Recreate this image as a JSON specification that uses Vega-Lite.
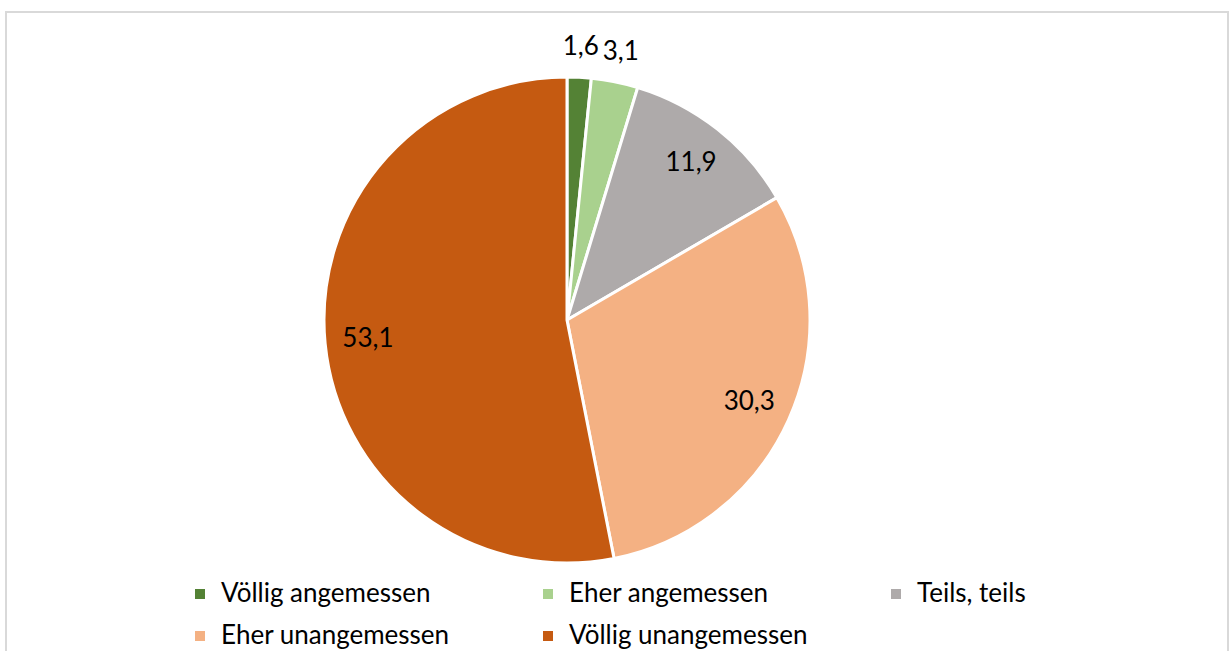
{
  "$schema": "https://vega.github.io/schema/vega-lite/v6.json",
  "autosize": "none",
  "width": 1222,
  "height": 639,
  "padding": {"left": 6, "top": 12, "right": 2, "bottom": 0},
  "background": "white",
  "config": {
    "view": {"stroke": null},
    "font": "Lato"
  },
  "datasets": {
    "antworten": [
      {"nr": 1, "kategorie": "Völlig angemessen", "wert": 1.6, "label": "1,6"},
      {"nr": 2, "kategorie": "Eher angemessen", "wert": 3.1, "label": "3,1"},
      {"nr": 3, "kategorie": "Teils, teils", "wert": 11.9, "label": "11,9"},
      {"nr": 4, "kategorie": "Eher unangemessen", "wert": 30.3, "label": "30,3"},
      {"nr": 5, "kategorie": "Völlig unangemessen", "wert": 53.1, "label": "53,1"}
    ],
    "rahmen": [{"name": "Diagrammbereich"}]
  },
  "layer": [
    {
      "data": {"name": "rahmen"},
      "mark": {"type": "rect", "filled": false, "stroke": "#D9D9D9", "strokeWidth": 2, "y2Offset": 6},
      "encoding": {
        "x": {"value": 0},
        "x2": {"value": "width"},
        "y": {"value": 0},
        "y2": {"value": "height"}
      }
    },
    {
      "data": {"name": "antworten"},
      "mark": {"type": "arc", "outerRadius": 243, "stroke": "white", "strokeWidth": 3, "xOffset": -50, "yOffset": -11.5},
      "encoding": {
        "theta": {"field": "wert", "type": "quantitative", "stack": true},
        "order": {"field": "nr", "type": "quantitative"},
        "color": {
          "field": "kategorie",
          "type": "nominal",
          "sort": null,
          "scale": {
            "domain": ["Völlig angemessen", "Eher angemessen", "Teils, teils", "Eher unangemessen", "Völlig unangemessen"],
            "range": ["#548235", "#A9D18E", "#AEAAAA", "#F4B183", "#C55A11"]
          },
          "legend": {
            "title": null,
            "orient": "none",
            "legendX": 181,
            "legendY": 569,
            "direction": "horizontal",
            "columns": 3,
            "gridAlign": "all",
            "columnPadding": 75,
            "rowPadding": 16,
            "symbolType": "square",
            "symbolSize": 100,
            "symbolStrokeWidth": 0,
            "labelFontSize": 26,
            "labelFont": "Lato",
            "labelColor": "#000000",
            "labelOffset": 8,
            "labelLimit": 400,
            "padding": 0
          }
        }
      }
    },
    {
      "data": {"name": "antworten"},
      "mark": {"type": "text", "radius": 200, "fontSize": 26, "color": "#000000", "xOffset": -50, "yOffset": -11.5},
      "encoding": {
        "theta": {"field": "wert", "type": "quantitative", "stack": true},
        "order": {"field": "nr", "type": "quantitative"},
        "text": {"condition": {"test": "datum.wert < 5", "value": ""}, "field": "label"}
      }
    },
    {
      "data": {"name": "antworten"},
      "mark": {"type": "text", "radius": 273, "fontSize": 26, "color": "#000000", "xOffset": -50, "yOffset": -11.5},
      "encoding": {
        "theta": {"field": "wert", "type": "quantitative", "stack": true},
        "order": {"field": "nr", "type": "quantitative"},
        "text": {"condition": {"test": "datum.wert >= 5", "value": ""}, "field": "label"}
      }
    }
  ]
}
